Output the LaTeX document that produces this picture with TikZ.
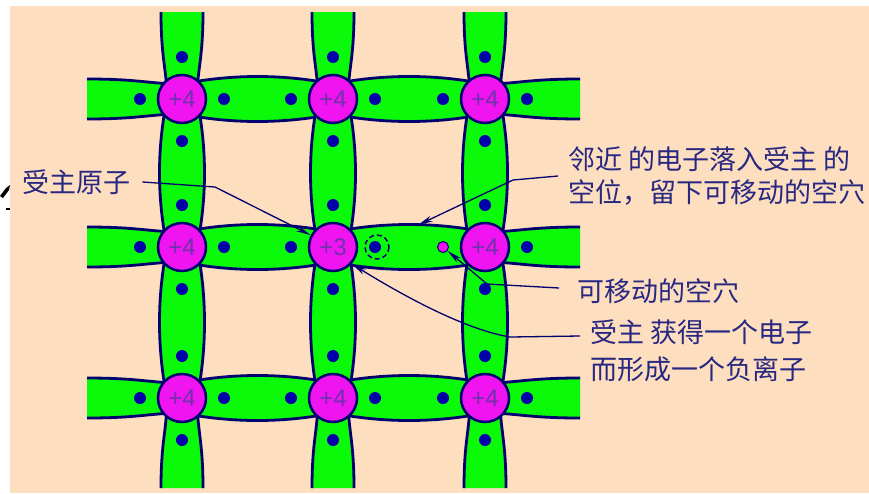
\documentclass[tikz,border=0pt]{standalone}
\usepackage{fontspec}
\newfontfamily\cjk{Noto Sans CJK SC}
\newfontfamily\numfont{Liberation Sans}
\usetikzlibrary{arrows.meta,calc}
\definecolor{paper}{RGB}{253,222,190}
\definecolor{bondgreen}{RGB}{10,250,10}
\definecolor{edge}{RGB}{0,0,110}
\definecolor{atomfill}{RGB}{240,20,240}
\definecolor{atomtext}{RGB}{110,50,170}
\definecolor{elec}{RGB}{0,0,170}
\definecolor{labeltext}{RGB}{40,40,130}

\begin{document}
\begin{tikzpicture}[x=1pt,y=-1pt,
  bondfill/.style={fill=bondgreen},
  bondline/.style={draw=edge,line width=2.8pt,line join=round},
  atom/.style={circle,fill=atomfill,draw=edge,line width=2.5pt,minimum size=48pt,
    inner sep=0pt,text=atomtext,font=\numfont\fontsize{24}{24}\selectfont},
  hole/.style={circle,fill=atomfill,draw=edge,line width=1pt,minimum size=11pt,inner sep=0pt},
  lbl/.style={text=labeltext,inner sep=0pt,anchor=west,align=left,
    font=\cjk\fontsize{27}{33}\selectfont},
  pointer/.style={draw=edge,line width=1.3pt,-{Stealth[length=15pt,width=6pt]}},
]
\useasboundingbox (0,0) rectangle (869,493);
\fill[white] (0,0) rectangle (869,493);
\fill[paper] (10,6) rectangle (869,493);

% stray mark at the left edge
\fill[black] (0,196) -- (6,188) -- (10,185) -- (9,190) -- (3,198) -- cycle;
\draw[black,line width=1.5pt] (6,209) -- (10,209);

% horizontal bonds between neighbouring atoms
\foreach \y in {99,247,398}{
  \foreach \xa/\xb in {182/333,333/485}{
    \path[bondfill,bondline] (\xa,\y-15) .. controls (\xa+50,\y-25) and (\xb-50,\y-25) .. (\xb,\y-15)
      -- (\xb,\y+15) .. controls (\xb-50,\y+25) and (\xa+50,\y+25) .. (\xa,\y+15) -- cycle;
  }
  % open bonds at the left and right edges of the lattice
  \fill[bondgreen] (87,\y-20) .. controls (140,\y-20) and (150,\y-15) .. (182,\y-15)
    -- (182,\y+15) .. controls (150,\y+15) and (140,\y+20) .. (87,\y+20) -- cycle;
  \draw[bondline] (87,\y-20) .. controls (140,\y-20) and (150,\y-15) .. (182,\y-15);
  \draw[bondline] (87,\y+20) .. controls (140,\y+20) and (150,\y+15) .. (182,\y+15);
  \fill[bondgreen] (580,\y-20) .. controls (527,\y-20) and (517,\y-15) .. (485,\y-15)
    -- (485,\y+15) .. controls (517,\y+15) and (527,\y+20) .. (580,\y+20) -- cycle;
  \draw[bondline] (580,\y-20) .. controls (527,\y-20) and (517,\y-15) .. (485,\y-15);
  \draw[bondline] (580,\y+20) .. controls (527,\y+20) and (517,\y+15) .. (485,\y+15);
}

% vertical bonds
\foreach \x in {182,333,485}{
  \foreach \ya/\yb in {99/247,247/398}{
    \path[bondfill,bondline] (\x-15,\ya) .. controls (\x-25,\ya+50) and (\x-25,\yb-50) .. (\x-15,\yb)
      -- (\x+15,\yb) .. controls (\x+25,\yb-50) and (\x+25,\ya+50) .. (\x+15,\ya) -- cycle;
  }
  \fill[bondgreen] (\x-21,12) .. controls (\x-21,60) and (\x-15,70) .. (\x-15,99)
    -- (\x+15,99) .. controls (\x+15,70) and (\x+21,60) .. (\x+21,12) -- cycle;
  \draw[bondline] (\x-21,12) .. controls (\x-21,60) and (\x-15,70) .. (\x-15,99);
  \draw[bondline] (\x+21,12) .. controls (\x+21,60) and (\x+15,70) .. (\x+15,99);
  \fill[bondgreen] (\x-21,488) .. controls (\x-21,440) and (\x-15,430) .. (\x-15,398)
    -- (\x+15,398) .. controls (\x+15,430) and (\x+21,440) .. (\x+21,488) -- cycle;
  \draw[bondline] (\x-21,488) .. controls (\x-21,440) and (\x-15,430) .. (\x-15,398);
  \draw[bondline] (\x+21,488) .. controls (\x+21,440) and (\x+15,430) .. (\x+15,398);
}

% atoms
\node[atom] (a11) at (182,99) {+4};
\node[atom] (a12) at (333,99) {+4};
\node[atom] (a13) at (485,99) {+4};
\node[atom] (a21) at (182,247) {+4};
\node[atom] (a22) at (333,247) {+3};
\node[atom] (a23) at (485,247) {+4};
\node[atom] (a31) at (182,398) {+4};
\node[atom] (a32) at (333,398) {+4};
\node[atom] (a33) at (485,398) {+4};

% valence electrons
\foreach \x in {182,333,485}{
  \foreach \y in {99,247,398}{
    \fill[elec] (\x+42,\y) circle[radius=6] (\x,\y-42) circle[radius=6] (\x,\y+42) circle[radius=6];
    \pgfmathtruncatemacro\isvacant{(\x==485)&&(\y==247)}
    \ifnum\isvacant=0 \fill[elec] (\x-42,\y) circle[radius=6];\fi
  }
}

% captured electron and the hole it leaves
\coordinate (cap) at (377,247);
\draw[edge,line width=1.5pt,dash pattern=on 5pt off 3pt] (cap) circle[radius=12];
\node[hole] (hole) at (443,247) {};

% labels
\node[lbl] (lbl1) at (22,182) {受主原子};
\node[lbl] (lbl2) at (568,176) {邻近\hspace{6pt}的电子落入受主\hspace{6pt}的\\空位，留下可移动的空穴};
\node[lbl] (lbl3) at (577,291) {可移动的空穴};
\node[lbl,font=\cjk\fontsize{27}{37}\selectfont] (lbl4) at (590,351)
  {受主\hspace{6pt}获得一个电子\\而形成一个负离子};

% pointers
\coordinate (bondtop) at (418,225);
\draw[pointer] ([xshift=12pt]lbl1.east) -- (215,187) -- (a22.152);
\draw[pointer] ([xshift=-10pt]lbl2.west) -- (513,180) -- (bondtop);
\draw[pointer] ([xshift=-18pt,yshift=3pt]lbl3.west) -- (487,284) -- (hole);
\draw[pointer] ([xshift=-10pt,yshift=15pt]lbl4.west) -- (510,337)
  .. controls (468,330) and (410,300) .. (a22.-42);
\end{tikzpicture}
\end{document}
